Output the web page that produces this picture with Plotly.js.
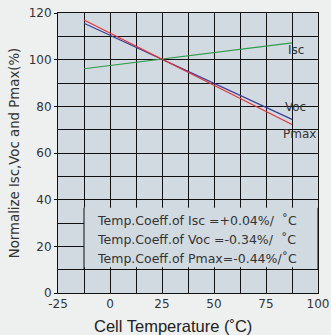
<!DOCTYPE html>
<html><head><meta charset="utf-8">
<script src="https://cdn.plot.ly/plotly-3.0.1.min.js"></script>
<style>html,body{margin:0;padding:0;background:#eef0f0;}</style>
</head><body>
<div id="chart" style="width:331px;height:335px;"></div>
<script>
const temps = [-12.5, 87.5];
const isc = [96.1, 107.2];
const voc = [115.6, 74.4];
const pmax = [117.0, 72.2];
const seriesNames = ['Isc', 'Voc', 'Pmax'];
const coeffLines = [
  'Temp.Coeff.of Isc =+0.04%/  ˚C',
  'Temp.Coeff.of Voc =-0.34%/  ˚C',
  'Temp.Coeff.of Pmax=-0.44%/˚C'
];
const xTicks = [-25, 0, 25, 50, 75, 100];
const yTicks = [0, 20, 40, 60, 80, 100, 120];

const font = 'DejaVu Sans, Verdana, sans-serif';
const traces = [
  {x: temps, y: isc, mode: 'lines', name: seriesNames[0], line: {color: '#2e9a4a', width: 1.2}},
  {x: temps, y: voc, mode: 'lines', name: seriesNames[1], line: {color: '#3a3c96', width: 1.2}},
  {x: temps, y: pmax, mode: 'lines', name: seriesNames[2], line: {color: '#e0343a', width: 1.2}}
];
const ann = [
  {x: 89.4, y: 104.3, text: seriesNames[0]},
  {x: 89.0, y: 79.8, text: seriesNames[1]},
  {x: 90.9, y: 68.2, text: seriesNames[2]}
].map(a => Object.assign(a, {xref: 'x', yref: 'y', showarrow: false, font: {family: font, size: 12, color: '#333'}}));
const coeffY = [31.2, 23.0, 14.9];
coeffLines.forEach((t, i) => ann.push({x: -7.3, y: coeffY[i], xref: 'x', yref: 'y', xanchor: 'left', text: t, showarrow: false, font: {family: font, size: 12.5, color: '#333'}}));
ann.push({x: 0.442, y: -0.118, xref: 'paper', yref: 'paper', xanchor: 'center', yanchor: 'middle', showarrow: false,
  text: 'Cell Temperature (˚C)', font: {family: 'Liberation Sans, Arial, sans-serif', size: 16.5, color: '#222'}});

const layout = {
  width: 331, height: 335,
  margin: {l: 58, r: 13, t: 13, b: 42},
  paper_bgcolor: '#eef0f0',
  plot_bgcolor: '#d2dae1',
  showlegend: false,
  font: {family: font, color: '#333'},
  xaxis: {
    range: [-25, 100], tickvals: xTicks, ticktext: xTicks.map(String),
    showgrid: true, gridcolor: '#111', gridwidth: 1,
    minor: {dtick: 12.5, showgrid: true, gridcolor: '#111', gridwidth: 1},
    showline: true, linecolor: '#111', linewidth: 1, mirror: true,
    zeroline: false, ticks: '', tickfont: {size: 12, color: '#333'}
  },
  yaxis: {
    range: [0, 120], tickvals: yTicks, ticktext: yTicks.map(String),
    showgrid: true, gridcolor: '#111', gridwidth: 1,
    minor: {dtick: 10, showgrid: true, gridcolor: '#111', gridwidth: 1},
    showline: true, linecolor: '#111', linewidth: 1, mirror: true,
    zeroline: false, ticks: 'outside', ticklen: 3, tickcolor: '#111', tickfont: {size: 12, color: '#333'},
    title: {text: 'Normalize Isc,Voc and Pmax(%)', font: {size: 13.3, color: '#333'}, standoff: 6}
  },
  shapes: [
    {type: 'rect', xref: 'x', yref: 'y', x0: -12.5, x1: 100, y0: 11, y1: 36.5, fillcolor: '#d2dae1', line: {width: 0}, layer: 'above'},
    {type: 'line', xref: 'x', yref: 'y', x0: -12.5, x1: -12.5, y0: 10, y1: 36.5, line: {color: '#111', width: 1}, layer: 'above'},
    {type: 'line', xref: 'x', yref: 'y', x0: 100, x1: 100, y0: 10, y1: 36.5, line: {color: '#111', width: 1}, layer: 'above'}
  ],
  annotations: ann
};
Plotly.newPlot('chart', traces, layout, {displayModeBar: false, staticPlot: true});
</script>
</body></html>
